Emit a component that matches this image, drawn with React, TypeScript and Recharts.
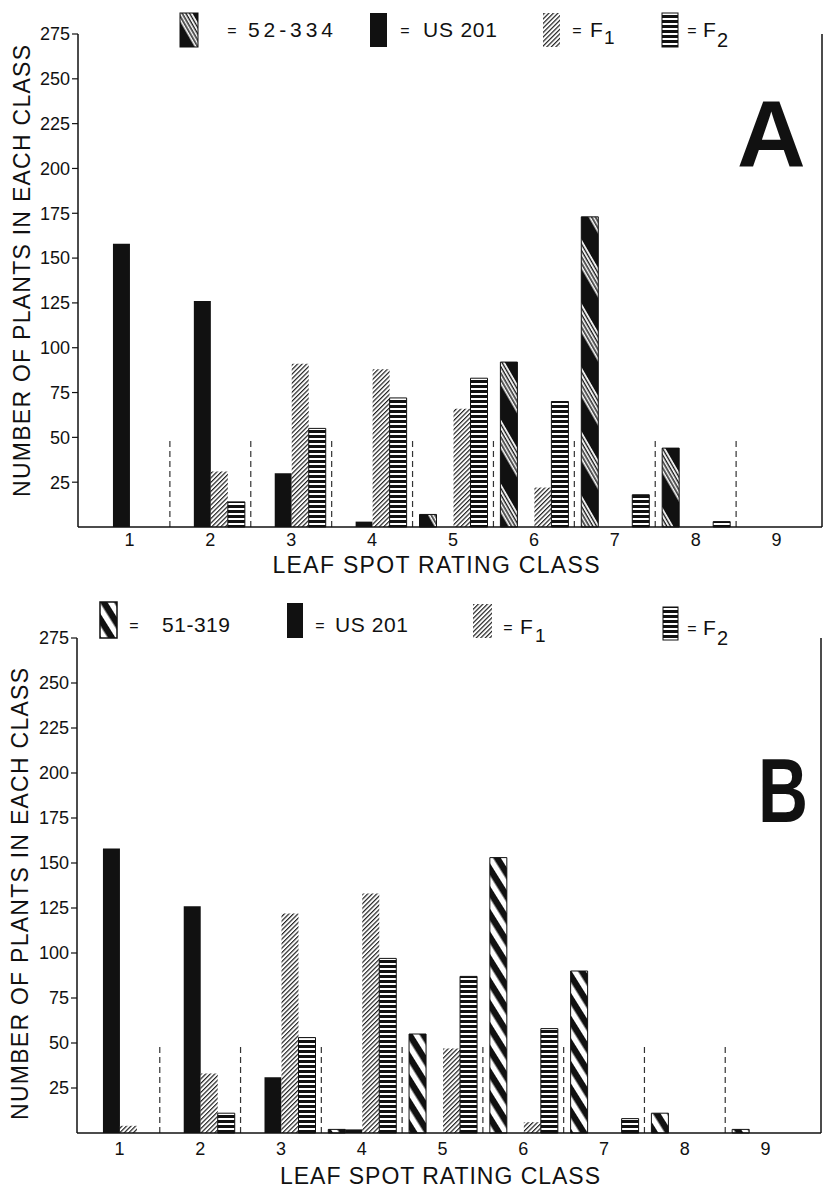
import React from 'react';
import { BarChart, Bar, XAxis, YAxis, ReferenceLine } from 'recharts';

// leaf spot rating classes
const classes = ['1', '2', '3', '4', '5', '6', '7', '8', '9'];
const yTicks = [25, 50, 75, 100, 125, 150, 175, 200, 225, 250, 275];
// dashed dividers drawn at the right edge of these classes, up to 50 plants
const dividers = ['1', '2', '3', '4', '5', '6', '7', '8'];
const dividerTop = 50;

// panel A: 52-334 x US 201
const a52334 = [0, 0, 0, 0, 7, 92, 173, 44, 0];
const aUS201 = [158, 126, 30, 3, 0, 0, 0, 0, 0];
const aF1 = [0, 31, 91, 88, 66, 22, 0, 0, 0];
const aF2 = [0, 14, 55, 72, 83, 70, 18, 3, 0];

// panel B: 51-319 x US 201
const b51319 = [0, 0, 0, 2, 55, 153, 90, 11, 2];
const bUS201 = [158, 126, 31, 2, 0, 0, 0, 0, 0];
const bF1 = [4, 33, 122, 133, 47, 6, 0, 0, 0];
const bF2 = [0, 11, 53, 97, 87, 58, 8, 0, 0];

const FONT = '"Liberation Sans", Arial, sans-serif';
const INK = '#111';

const rowsA = classes.map((c, i) => ({ cls: c, parent: a52334[i], us: aUS201[i], f1: aF1[i], f2: aF2[i] }));
const rowsB = classes.map((c, i) => ({ cls: c, parent: b51319[i], us: bUS201[i], f1: bF1[i], f2: bF2[i] }));

/** All the hatch fills, shared by the two charts and the legends */
function Patterns() {
  return (
    <defs>
      {/* 52-334: black with bands of fine white lines */}
      <pattern id="patA" patternUnits="userSpaceOnUse" width="8" height="32" patternTransform="rotate(60)">
        <rect width="8" height="32" fill={INK} />
        {[0, 3.2, 6.4, 9.6, 12.8].map((y) => (
          <rect key={y} y={y} width="8" height="1.8" fill="#fff" />
        ))}
      </pattern>
      {/* 51-319: bold black/white stripes */}
      <pattern id="patB" patternUnits="userSpaceOnUse" width="8" height="12" patternTransform="rotate(58)">
        <rect width="8" height="12" fill="#fff" />
        <rect width="8" height="6.5" fill={INK} />
      </pattern>
      <pattern id="patF1" patternUnits="userSpaceOnUse" width="6" height="3.2" patternTransform="rotate(-45)">
        <rect width="6" height="3.2" fill="#fff" />
        <rect width="6" height="1.2" fill="#222" />
      </pattern>
      <pattern id="patF2" patternUnits="userSpaceOnUse" width="6" height="5">
        <rect width="6" height="5" fill="#fff" />
        <rect width="6" height="3" fill={INK} />
      </pattern>
    </defs>
  );
}

interface PanelProps {
  rows: typeof rowsA;
  parentFill: string;
  top: number;
  height: number;
  marginTop: number;
  marginBottom: number;
  marginRight: number;
  yWidth: number;
  padding: { left: number; right: number };
  labelGap: number;
}

function Panel({ rows, parentFill, top, height, marginTop, marginBottom, marginRight, yWidth, padding, labelGap }: PanelProps) {
  const tickStyle = { fontSize: 18, fill: INK, fontFamily: FONT };
  return (
    <div style={{ position: 'absolute', left: 0, top }}>
      <BarChart
        width={827}
        height={height}
        data={rows}
        margin={{ top: marginTop, right: marginRight, left: 0, bottom: marginBottom }}
        barCategoryGap="8.6%"
        barGap={0}
      >
        <XAxis
          dataKey="cls"
          interval={0}
          padding={padding}
          height={30}
          tickLine={false}
          tickSize={0}
          tickMargin={labelGap}
          tick={tickStyle}
          axisLine={{ stroke: INK, strokeWidth: 1.5 }}
        />
        <YAxis
          domain={[0, 275]}
          ticks={yTicks}
          interval={0}
          width={yWidth}
          tickSize={6}
          tickMargin={2}
          tick={tickStyle}
          axisLine={{ stroke: INK, strokeWidth: 1.5 }}
          tickLine={{ stroke: INK, strokeWidth: 1.2 }}
        />
        <YAxis
          yAxisId="r"
          orientation="right"
          mirror
          type="number"
          domain={[0, 275]}
          ticks={yTicks}
          interval={0}
          tickSize={7}
          tickFormatter={() => ''}
          axisLine={{ stroke: INK, strokeWidth: 1.5 }}
          tickLine={{ stroke: INK, strokeWidth: 1.2 }}
        />
        {dividers.map((d) => (
          <ReferenceLine
            key={d}
            segment={[{ x: d, y: 0 }, { x: d, y: dividerTop }]}
            position="end"
            stroke="#333"
            strokeWidth={1.2}
            strokeDasharray="6 4"
          />
        ))}
        <Bar dataKey="parent" fill={parentFill} stroke={INK} strokeWidth={1} isAnimationActive={false} />
        <Bar dataKey="us" fill={INK} isAnimationActive={false} />
        <Bar dataKey="f1" fill="url(#patF1)" isAnimationActive={false} />
        <Bar dataKey="f2" fill="url(#patF2)" stroke={INK} strokeWidth={1} isAnimationActive={false} />
      </BarChart>
    </div>
  );
}

function Eq({ x, y }: { x: number; y: number }) {
  return (
    <text x={x} y={y} textAnchor="middle" fontSize={16} fill={INK}>
      =
    </text>
  );
}

export default function App() {
  return (
    <div style={{ position: 'absolute', left: 0, top: 0, width: 827, height: 1188, background: '#fff', fontFamily: FONT }}>
      <Panel
        rows={rowsA}
        parentFill="url(#patA)"
        top={0}
        height={600}
        marginTop={34}
        marginBottom={43}
        marginRight={5}
        yWidth={78}
        padding={{ left: 11, right: 5 }}
        labelGap={6}
      />
      <Panel
        rows={rowsB}
        parentFill="url(#patB)"
        top={600}
        height={588}
        marginTop={38}
        marginBottom={25}
        marginRight={6}
        yWidth={77}
        padding={{ left: 2, right: 15 }}
        labelGap={9}
      />

      {/* titles, legends and panel letters */}
      <svg
        width={827}
        height={1188}
        style={{ position: 'absolute', left: 0, top: 0, pointerEvents: 'none' }}
        fontFamily={FONT}
      >
        <Patterns />

        {/* panel A */}
        <rect x={180} y={13} width={18} height={34} fill="url(#patA)" stroke={INK} strokeWidth={1} />
        <Eq x={232} y={36} />
        <text x={248} y={37} fontSize={21} fill={INK} textLength={85} lengthAdjust="spacing">52-334</text>
        <rect x={370} y={13} width={17} height={34} fill={INK} />
        <Eq x={405} y={36} />
        <text x={423} y={37} fontSize={21} fill={INK} textLength={74} lengthAdjust="spacing">US 201</text>
        <rect x={543} y={13} width={17} height={34} fill="url(#patF1)" />
        <Eq x={577} y={36} />
        <text x={590} y={37} fontSize={21} fill={INK}>F</text>
        <text x={604} y={44} fontSize={19} fill={INK}>1</text>
        <rect x={662} y={13} width={16} height={34} fill="url(#patF2)" stroke={INK} strokeWidth={1} />
        <Eq x={692} y={36} />
        <text x={703} y={37} fontSize={21} fill={INK}>F</text>
        <text x={717} y={47} fontSize={20} fill={INK}>2</text>

        <text x={737} y={167} fontSize={95} fontWeight="bold" fill={INK}>A</text>

        <text
          transform="translate(30,271) rotate(-90)"
          textAnchor="middle"
          fontSize={23}
          fill={INK}
          textLength={452}
          lengthAdjust="spacing"
        >
          NUMBER OF PLANTS IN EACH CLASS
        </text>
        <text x={436} y={573} textAnchor="middle" fontSize={23} fill={INK} textLength={327} lengthAdjust="spacing">
          LEAF SPOT RATING CLASS
        </text>

        {/* panel B */}
        <rect x={100} y={602} width={17} height={36} fill="url(#patB)" stroke={INK} strokeWidth={1.5} />
        <Eq x={134} y={631} />
        <text x={162} y={632} fontSize={21} fill={INK} textLength={68} lengthAdjust="spacing">51-319</text>
        <rect x={287} y={603} width={16} height={35} fill={INK} />
        <Eq x={320} y={631} />
        <text x={335} y={632} fontSize={21} fill={INK} textLength={73} lengthAdjust="spacing">US 201</text>
        <rect x={473} y={604} width={19} height={34} fill="url(#patF1)" />
        <Eq x={508} y={633} />
        <text x={520} y={634} fontSize={21} fill={INK}>F</text>
        <text x={535} y={642} fontSize={19} fill={INK}>1</text>
        <rect x={663} y={607} width={15} height={33} fill="url(#patF2)" stroke={INK} strokeWidth={1} />
        <Eq x={692} y={634} />
        <text x={703} y={635} fontSize={21} fill={INK}>F</text>
        <text x={717} y={645} fontSize={20} fill={INK}>2</text>

        <text x={758} y={822} fontSize={90} fontWeight="bold" fill={INK} textLength={50} lengthAdjust="spacingAndGlyphs">
          B
        </text>

        <text
          transform="translate(28,894) rotate(-90)"
          textAnchor="middle"
          fontSize={23}
          fill={INK}
          textLength={452}
          lengthAdjust="spacing"
        >
          NUMBER OF PLANTS IN EACH CLASS
        </text>
        <text x={440} y={1184} textAnchor="middle" fontSize={23} fill={INK} textLength={320} lengthAdjust="spacing">
          LEAF SPOT RATING CLASS
        </text>
      </svg>
    </div>
  );
}
